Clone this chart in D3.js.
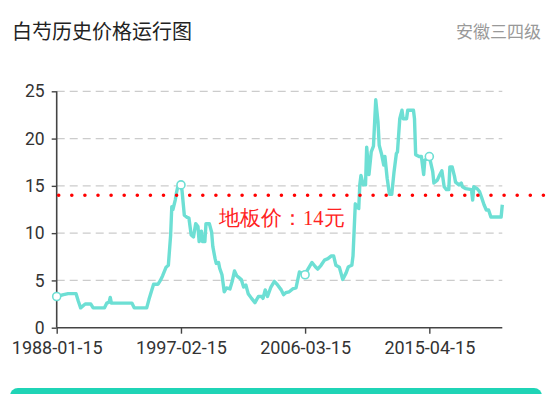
<!DOCTYPE html>
<html>
<head>
<meta charset="utf-8">
<script src="https://cdn.jsdelivr.net/npm/d3@7"></script>
<style>
  body { margin: 0; background: #fff; }
  svg { display: block; }
  .tick text { font-family: Roboto, "Noto Sans", sans-serif; }
</style>
</head>
<body>
<div id="chart"></div>
<script>
var margin = {top: 91.3, right: 50.7, bottom: 66.3, left: 56.7},
    totalW = 553, totalH = 394,
    width = totalW - margin.left - margin.right,
    height = totalH - margin.top - margin.bottom

// price readings (month, yuan)
var months = ["1988-01","1988-07","1988-11","1989-06","1989-08","1989-10","1990-02","1990-07","1990-09","1991-07",
    "1991-09","1991-11","1991-12","1992-01","1993-07","1993-09","1994-08","1994-10","1994-12","1995-02",
    "1995-06","1995-08","1995-10","1996-01","1996-03","1996-05","1996-06","1996-07","1996-09","1996-10",
    "1996-11","1996-12","1997-02","1997-03","1997-05","1997-07","1997-09","1997-11","1998-01","1998-03",
    "1998-05","1998-06","1998-08","1998-09","1998-11","1998-12","1999-03","1999-05","1999-06","1999-08",
    "1999-09","1999-11","1999-12","2000-02","2000-04","2000-06","2000-09","2000-11","2001-01","2001-03",
    "2001-05","2001-07","2001-09","2001-11","2002-01","2002-04","2002-07","2002-10","2003-01","2003-02",
    "2003-04","2003-06","2003-09","2003-12","2004-03","2004-06","2004-08","2004-10","2005-01","2005-04",
    "2005-07","2005-10","2006-03","2006-05","2006-09","2006-12","2007-02","2007-05","2007-08","2007-11",
    "2008-02","2008-04","2008-06","2008-09","2008-12","2009-03","2009-05","2009-08","2009-09","2009-11",
    "2010-01","2010-02","2010-03","2010-04","2010-06","2010-08","2010-09","2010-11","2011-01","2011-03",
    "2011-05","2011-07","2011-08","2011-10","2011-12","2012-01","2012-03","2012-05","2012-07","2012-09",
    "2012-11","2012-12","2013-02","2013-04","2013-05","2013-08","2013-09","2014-02","2014-03","2014-04",
    "2014-07","2014-09","2014-11","2014-12","2015-04","2015-07","2015-08","2015-11","2016-01","2016-03",
    "2016-05","2016-07","2016-09","2016-10","2016-12","2017-02","2017-03","2017-06","2017-08","2017-09",
    "2017-12","2018-05","2018-06","2018-07","2018-10","2018-12","2019-02","2019-04","2019-06","2019-08",
    "2019-10","2020-07","2020-08"];

var prices = [3.3,3.5,3.6,3.6,2.8,2.1,2.5,2.5,2.1,2.1,
    2.6,2.7,3.2,2.6,2.6,2.1,2.1,3.0,3.8,4.6,
    4.6,5.0,5.5,6.4,6.6,9.8,12.8,12.5,13.5,14.2,
    14.8,15.0,15.1,14.5,11.9,11.7,11.6,9.8,9.6,11.0,
    10.7,9.1,10.2,9.1,9.1,11.0,11.0,10.1,8.6,7.3,
    6.8,6.9,6.3,5.6,3.8,4.2,4.1,4.9,6.0,5.5,
    5.3,5.1,4.3,4.5,3.6,3.1,2.65,3.3,3.3,3.1,
    4.0,3.3,4.3,4.9,4.5,4.0,3.5,3.7,3.8,4.1,
    4.2,5.9,5.6,6.1,6.9,6.45,6.2,6.6,7.15,7.3,
    7.6,7.6,6.6,6.4,5.1,5.8,6.45,6.6,7.6,13.1,
    12.7,12.6,15.1,16.1,15.1,15.1,19.1,16.2,18.6,19.2,
    24.1,21.7,19.3,18.4,17.2,18.1,15.8,14.1,14.1,16.5,
    18.4,18.6,22.1,23.0,22.1,22.1,23.0,23.0,22.1,18.3,
    18.1,18.1,16.2,17.7,18.1,16.5,15.3,15.6,16.15,16.6,
    14.9,14.6,14.6,17.0,17.0,16.0,15.4,15.1,15.3,14.9,
    14.7,14.6,13.5,14.9,14.7,14.4,13.7,13.0,12.45,12.45,
    11.7,11.7,13.0];

var tickLabels = ["1988-01-15", "1997-02-15", "2006-03-15", "2015-04-15"];
var yTicks = [0, 5, 10, 15, 20, 25];
var floorPrice = 14;
var domainStart = "1988-01-15", domainEnd = "2020-08-15";

var parseDay = d3.timeParse("%Y-%m-%d");
var parseMonth = function(s) { return parseDay(s + "-15"); };

var data = months.map(function(m, i) { return {date: parseMonth(m), value: prices[i]}; });

var svg = d3.select("#chart")
    .append("svg")
        .attr("width", totalW)
        .attr("height", totalH);

// header
svg.append("text")
    .attr("x", 12)
    .attr("y", 39)
    .style("font-family", "'Noto Sans CJK SC', sans-serif")
    .style("font-size", "20px")
    .style("fill", "#222")
    .text("白芍历史价格运行图");

svg.append("text")
    .attr("x", 541)
    .attr("y", 38)
    .attr("text-anchor", "end")
    .style("font-family", "'Noto Sans CJK SC', sans-serif")
    .style("font-size", "17px")
    .style("fill", "#999")
    .text("安徽三四级");

var g = svg.append("g")
    .attr("transform", "translate(" + margin.left + "," + margin.top + ")");

var x = d3.scaleTime().domain([parseDay(domainStart), parseDay(domainEnd)]).range([0, width]);
var y = d3.scaleLinear().domain([0, 25]).range([height, 0]);

// dashed grid
g.selectAll("line.grid")
    .data(yTicks.filter(function(d) { return d > 0; }))
    .enter()
    .append("line")
        .attr("class", "grid")
        .attr("x1", 0)
        .attr("x2", width)
        .attr("y1", function(d) { return y(d); })
        .attr("y2", function(d) { return y(d); })
        .style("stroke", "#ccc")
        .style("stroke-width", 1.2)
        .style("stroke-dasharray", "8,5");

// axes
var yAxis = g.append("g")
    .call(d3.axisLeft(y).tickValues(yTicks).tickSize(5).tickPadding(7));
var xAxis = g.append("g")
    .attr("transform", "translate(0," + height + ")")
    .call(d3.axisBottom(x)
        .tickValues(tickLabels.map(parseDay))
        .tickSize(6)
        .tickPadding(8)
        .tickFormat(d3.timeFormat("%Y-%m-%d")));

[xAxis, yAxis].forEach(function(a) {
    a.select(".domain").style("stroke", "#444").style("stroke-width", 1.6);
    a.selectAll(".tick line").style("stroke", "#444").style("stroke-width", 1.4);
    a.selectAll(".tick text").style("fill", "#333").style("font-size", "17.5px");
});
xAxis.selectAll(".tick text").style("font-size", "18px");
xAxis.select(".domain").attr("d", "M0,0H" + width);
yAxis.select(".domain").attr("d", "M0," + height + "V0");

// price line
var line = d3.line()
    .x(function(d) { return x(d.date); })
    .y(function(d) { return y(d.value); });

g.append("path")
    .datum(data)
    .attr("d", line)
    .style("fill", "none")
    .style("stroke", "#6ddfd4")
    .style("stroke-width", 3.4)
    .style("stroke-linejoin", "round");

// hollow markers on labelled months
var marked = data.filter(function(d) {
    return tickLabels.indexOf(d3.timeFormat("%Y-%m-%d")(d.date)) >= 0;
});
g.selectAll("circle.mark")
    .data(marked)
    .enter()
    .append("circle")
        .attr("class", "mark")
        .attr("cx", function(d) { return x(d.date); })
        .attr("cy", function(d) { return y(d.value); })
        .attr("r", 4)
        .style("fill", "#fff")
        .style("stroke", "#6ddfd4")
        .style("stroke-width", 1.6);

// floor price line
g.append("line")
    .attr("x1", 2)
    .attr("x2", totalW - margin.left - 6)
    .attr("y1", y(floorPrice))
    .attr("y2", y(floorPrice))
    .style("stroke", "#f00")
    .style("stroke-width", 3.6)
    .style("stroke-linecap", "round")
    .style("stroke-dasharray", "0,13.1");

svg.append("text")
    .attr("x", 219)
    .attr("y", 225)
    .style("font-family", "'Liberation Serif', 'DejaVu Serif', serif")
    .style("font-size", "20.5px")
    .style("fill", "#f22")
    .text("地板价：" + floorPrice + "元");

// bottom bar
svg.append("rect")
    .attr("x", 10)
    .attr("y", 388)
    .attr("width", 532)
    .attr("height", 30)
    .attr("rx", 8)
    .style("fill", "#1fd4b6");
</script>
</body>
</html>
